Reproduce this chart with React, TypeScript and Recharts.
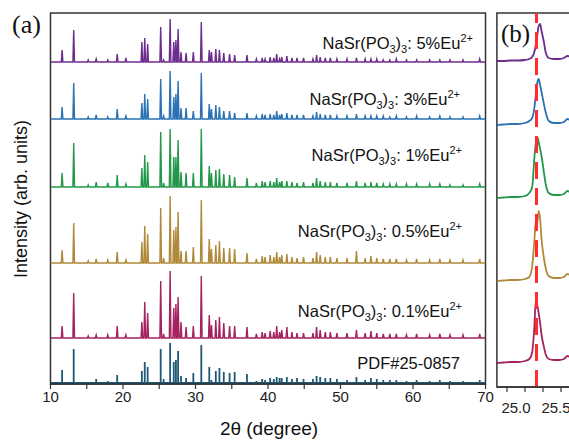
import { LineChart, Line, XAxis, YAxis, ReferenceArea, ReferenceLine } from 'recharts';

const FONT = 'Arial, "Liberation Sans", sans-serif';
const SERIF = '"Times New Roman", "Liberation Serif", serif';
const AXIS = '#333';

// panel (a): peak positions (2θ, degree) shared by all patterns
const peakPos = [
  11.6, 13.2, 15.2, 16.3, 17.9, 19.2, 20.4, 22.6, 23.0, 23.4,
  25.2, 25.6, 26.5, 27.0, 27.3, 27.6, 28.0, 28.7, 29.7, 30.8,
  31.9, 32.2, 32.8, 33.3, 33.9, 34.7, 35.4, 37.1, 38.4, 39.2,
  39.6, 40.3, 40.8, 41.2, 41.6, 41.9, 42.6, 43.3, 44.0, 44.9,
  46.2, 46.7, 47.2, 47.9, 48.6, 49.5, 50.9, 52.2, 53.4, 54.2,
  55.0, 55.9, 56.8, 57.7, 59.1, 60.5, 62.3, 63.7, 65.1, 66.9, 69.2,
];

// peak heights per pattern (arb. units)
const eu5 = [
  12, 32, 2, 3, 2, 8, 4, 20, 24, 18,
  35, 2, 43, 20, 22, 33, 10, 9, 10, 40,
  12, 10, 13, 12, 9, 8, 7, 7, 3, 4,
  3, 5, 4, 8, 3, 5, 6, 4, 4, 4,
  3, 7, 5, 4, 4, 3, 3, 4, 3, 3,
  3, 2, 2, 3, 2, 2, 2, 2, 2, 2, 3,
];
const eu3 = [
  12, 36, 2, 4, 2, 10, 3, 16, 25, 20,
  40, 3, 48, 22, 25, 38, 11, 11, 8, 46,
  15, 10, 14, 12, 8, 8, 6, 6, 3, 5,
  4, 5, 4, 8, 4, 5, 6, 4, 4, 4,
  3, 7, 5, 4, 4, 3, 3, 5, 3, 3,
  3, 3, 2, 3, 2, 3, 2, 3, 2, 2, 3,
];
const eu1 = [
  14, 44, 2, 5, 4, 12, 3, 19, 32, 25,
  55, 4, 58, 30, 30, 47, 15, 14, 14, 58,
  21, 14, 17, 18, 13, 12, 10, 9, 4, 6,
  5, 6, 5, 9, 5, 6, 6, 5, 4, 5,
  4, 9, 6, 5, 5, 4, 4, 6, 4, 5,
  4, 3, 3, 3, 3, 3, 3, 3, 2, 2, 3,
];
const eu05 = [
  13, 40, 2, 4, 3, 11, 3, 21, 37, 29,
  55, 5, 67, 33, 36, 51, 12, 12, 16, 63,
  24, 14, 18, 22, 15, 15, 14, 10, 4, 7,
  6, 8, 6, 11, 6, 8, 9, 6, 5, 6,
  5, 11, 8, 6, 6, 5, 5, 12, 5, 7,
  5, 4, 4, 4, 3, 4, 3, 4, 3, 3, 4,
];
const eu01 = [
  12, 45, 2, 3, 3, 12, 3, 16, 36, 25,
  57, 4, 67, 30, 34, 41, 16, 11, 12, 62,
  23, 13, 18, 21, 15, 12, 12, 11, 4, 6,
  5, 7, 6, 12, 6, 8, 11, 6, 5, 5,
  5, 11, 8, 6, 6, 5, 5, 8, 5, 7,
  5, 4, 4, 4, 3, 4, 3, 4, 3, 3, 4,
];
const pdf = [
  13, 34, 1, 4, 2, 8, 1, 12, 21, 16,
  34, 4, 40, 21, 23, 32, 7, 5, 10, 38,
  16, 3, 12, 15, 11, 10, 11, 9, 2, 4,
  3, 5, 4, 6, 5, 5, 6, 4, 5, 4,
  4, 7, 6, 5, 5, 4, 3, 6, 3, 5,
  4, 3, 3, 3, 2, 3, 2, 3, 2, 2, 3,
];

// panel (b): zoom around 25.2°
const bx = [24.61, 24.7, 24.8, 24.9, 25.0, 25.06, 25.1, 25.13, 25.15, 25.17, 25.19, 25.21, 25.23, 25.26, 25.29, 25.33, 25.4, 25.48, 25.54, 25.59, 25.65, 25.7];
const b5 = [0, 0, 0.5, 0.5, 1, 2, 4, 9, 16, 25, 35, 37, 30, 20, 8, 3, 2, 2, 3, 5, 4, 3];
const b3 = [0, 0.5, 1, 1, 2, 4, 7, 17, 30, 42, 46, 40, 33, 22, 12, 4, 2, 2, 3, 6, 4, 3];
const b1 = [0, 0.5, 1, 1, 2, 5, 11, 40, 55, 61, 56, 49, 42, 27, 13, 5, 3, 3, 4, 7, 5, 4];
const b05 = [0, 0.5, 1, 1, 2, 4, 15, 40, 60, 58, 70, 62, 42, 24, 12, 5, 3, 3, 4, 7, 5, 4];
const b01 = [0, 0.5, 1, 1, 2, 4, 11, 36, 62, 58, 50, 40, 28, 17, 8, 4, 3, 3, 4, 7, 5, 4];
const refPeak = 25.16;

const seriesA = [
  { name: '5%', h: eu5, b: b5, offA: 322, offB: 326, color: '#6c2d8c' },
  { name: '3%', h: eu3, b: b3, offA: 265, offB: 262, color: '#2a72b4' },
  { name: '1%', h: eu1, b: b1, offA: 197, offB: 189, color: '#23984a' },
  { name: '0.5%', h: eu05, b: b05, offA: 121, offB: 106, color: '#b08a3a' },
  { name: '0.1%', h: eu01, b: b01, offA: 46, offB: 24, color: '#a42260' },
];

const labels = [
  { pct: '5%', x: 473, y: 49 },
  { pct: '3%', x: 460, y: 105 },
  { pct: '1%', x: 462, y: 161 },
  { pct: '0.5%', x: 462, y: 237 },
  { pct: '0.1%', x: 462, y: 317 },
];

function profile(h: number[], off: number) {
  const pts = [{ x: 10, y: off }];
  peakPos.forEach((p, i) => {
    pts.push({ x: p - 0.11, y: off }, { x: p, y: off + h[i] }, { x: p + 0.11, y: off });
  });
  pts.push({ x: 70, y: off });
  return pts;
}

function sticks(h: number[], off: number) {
  const pts = [{ x: 10, y: off }];
  peakPos.forEach((p, i) => {
    pts.push({ x: p, y: off }, { x: p, y: off + h[i] }, { x: p, y: off });
  });
  pts.push({ x: 70, y: off });
  return pts;
}

const zoomData = (b: number[], off: number) => bx.map((x, i) => ({ x, y: off + b[i] }));

const BTick = (props: any) => {
  const { x, y, payload } = props;
  const v = payload.value;
  if (v !== 25 && v !== 25.5) return null;
  const dx = v === 25 ? -9 : -5;
  return (
    <text x={x + dx} y={y + 8} dy="0.71em" textAnchor="middle" fontSize={15} fill="#222" fontFamily={FONT}>
      {v.toFixed(1)}
    </text>
  );
};

export default function App() {
  return (
    <div style={{ position: 'fixed', left: 0, top: 0, width: 569, height: 441, overflow: 'hidden', background: '#fff' }}>
      <div style={{ position: 'absolute', left: 0, top: 0 }}>
        <LineChart width={569} height={441} margin={{ top: 13, left: 50.5, right: 83.5, bottom: 27 }}>
          <XAxis
            type="number"
            dataKey="x"
            domain={[10, 70]}
            ticks={[10, 15, 20, 25, 30, 35, 40, 45, 50, 55, 60, 65, 70]}
            interval={0}
            allowDataOverflow
            height={30}
            tickSize={5}
            tickFormatter={(v: number) => (v % 10 === 0 ? String(v) : '')}
            tick={{ fontSize: 15, fill: '#222', fontFamily: FONT }}
            tickLine={{ stroke: AXIS, strokeWidth: 1.2 }}
            axisLine={{ stroke: AXIS, strokeWidth: 1.5 }}
          />
          <YAxis type="number" domain={[0, 371]} hide allowDataOverflow />
          <ReferenceArea x1={10} x2={70} y1={0} y2={371} fill="none" stroke={AXIS} strokeWidth={1.5} ifOverflow="visible" />
          {seriesA.map((s) => (
            <Line key={s.name} data={profile(s.h, s.offA)} dataKey="y" type="linear" stroke={s.color} strokeWidth={1.4} dot={false} isAnimationActive={false} />
          ))}
          <Line data={sticks(pdf, 1)} dataKey="y" type="linear" stroke="#1f5876" strokeWidth={1.8} dot={false} isAnimationActive={false} />
        </LineChart>
      </div>

      <div style={{ position: 'absolute', left: 0, top: 0 }}>
        <LineChart width={700} height={441} margin={{ top: 13, left: 496.9, right: 88.6, bottom: 24 }}>
          <XAxis
            type="number"
            dataKey="x"
            domain={[24.61, 26.2]}
            ticks={[24.75, 25, 25.25, 25.5]}
            interval={0}
            allowDataOverflow
            height={30}
            tickSize={5}
            tick={<BTick />}
            tickLine={{ stroke: AXIS, strokeWidth: 1.2 }}
            axisLine={{ stroke: AXIS, strokeWidth: 1.5 }}
          />
          <YAxis type="number" domain={[0, 374]} hide allowDataOverflow />
          <ReferenceArea x1={24.61} x2={26.2} y1={0} y2={374} fill="none" stroke={AXIS} strokeWidth={1.5} ifOverflow="visible" />
          {seriesA.map((s) => (
            <Line key={s.name} data={zoomData(s.b, s.offB)} dataKey="y" type="monotone" stroke={s.color} strokeWidth={1.8} dot={false} isAnimationActive={false} />
          ))}
          <ReferenceLine x={refPeak} stroke="#ff2d2d" strokeWidth={3} strokeDasharray="17 9" />
        </LineChart>
      </div>

      <svg width={569} height={441} style={{ position: 'absolute', left: 0, top: 0, pointerEvents: 'none' }}>
        <text x={12} y={33} fontSize={26} fontFamily={SERIF} fill="#111">(a)</text>
        <text x={501} y={42} fontSize={25} fontFamily={SERIF} fill="#111">(b)</text>
        <text transform="translate(27,199) rotate(-90)" textAnchor="middle" fontSize={18} fontFamily={FONT} fill="#111">
          Intensity (arb. units)
        </text>
        <text x={269} y={435} textAnchor="middle" fontSize={19} fontFamily={FONT} fill="#111">2θ (degree)</text>
        {labels.map((l) => (
          <text key={l.pct} x={l.x} y={l.y} textAnchor="end" fontSize={16.5} fontFamily={FONT} fill="#111">
            NaSr(PO<tspan fontSize={11} dy={4}>3</tspan>
            <tspan dy={-4}>)</tspan>
            <tspan fontSize={11} dy={4}>3</tspan>
            <tspan dy={-4}>: {l.pct}Eu</tspan>
            <tspan fontSize={11} dy={-7}>2+</tspan>
          </text>
        ))}
        <text x={460} y={369} textAnchor="end" fontSize={16.5} fontFamily={FONT} fill="#111">PDF#25-0857</text>
      </svg>
    </div>
  );
}
